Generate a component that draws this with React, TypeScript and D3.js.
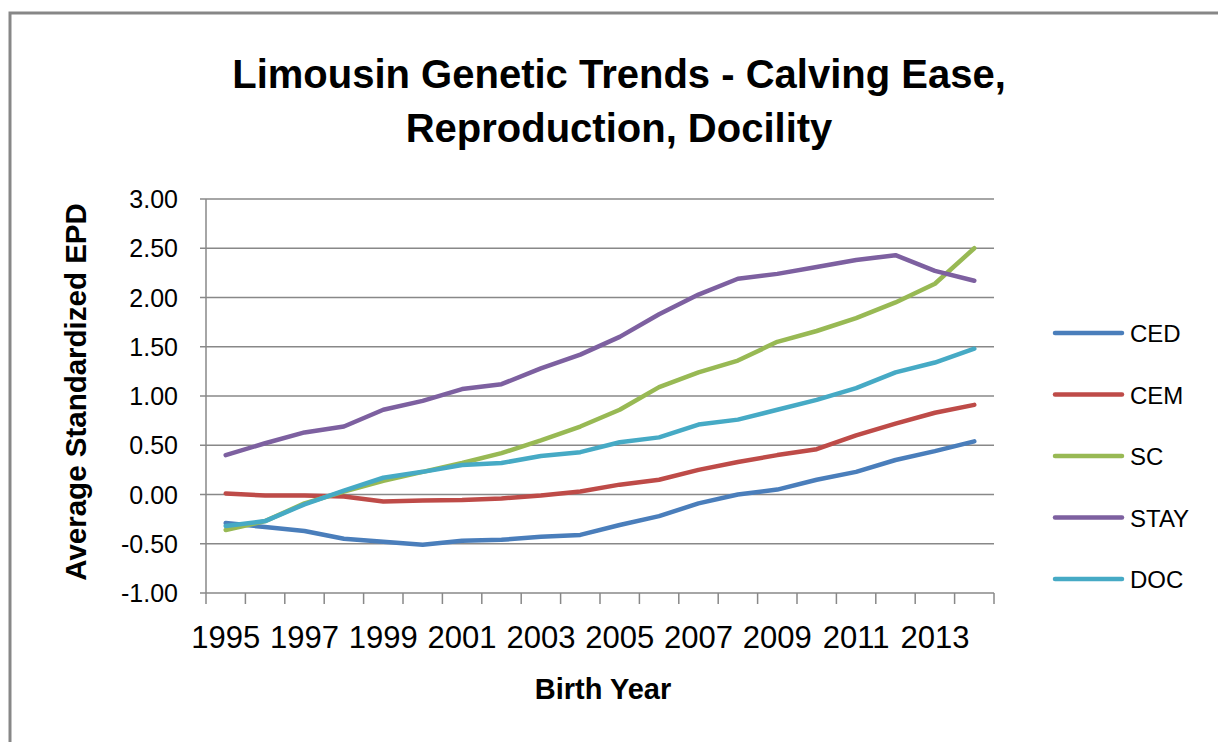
import * as d3 from "d3";

const years = [
  "1995", "1996", "1997", "1998", "1999", "2000", "2001", "2002", "2003", "2004",
  "2005", "2006", "2007", "2008", "2009", "2010", "2011", "2012", "2013", "2014",
];

const CED = [-0.29, -0.33, -0.37, -0.45, -0.48, -0.51, -0.47, -0.46, -0.43, -0.41, -0.31, -0.22, -0.09, 0.0, 0.05, 0.15, 0.23, 0.35, 0.44, 0.54];
const CEM = [0.01, -0.01, -0.01, -0.02, -0.07, -0.06, -0.055, -0.04, -0.01, 0.03, 0.1, 0.15, 0.25, 0.33, 0.4, 0.46, 0.6, 0.72, 0.83, 0.91];
const SC = [-0.36, -0.27, -0.09, 0.03, 0.14, 0.23, 0.32, 0.42, 0.55, 0.69, 0.86, 1.09, 1.24, 1.36, 1.55, 1.66, 1.79, 1.95, 2.14, 2.5];
const STAY = [0.4, 0.52, 0.63, 0.69, 0.86, 0.95, 1.07, 1.12, 1.28, 1.42, 1.6, 1.83, 2.03, 2.19, 2.24, 2.31, 2.38, 2.43, 2.27, 2.17];
const DOC = [-0.32, -0.27, -0.1, 0.04, 0.17, 0.23, 0.3, 0.32, 0.39, 0.43, 0.53, 0.58, 0.71, 0.76, 0.86, 0.96, 1.08, 1.24, 1.34, 1.48];

const yTicks = [-1, -0.5, 0, 0.5, 1, 1.5, 2, 2.5, 3];

const series = [
  { name: "CED", values: CED, color: "#4a7ebb" },
  { name: "CEM", values: CEM, color: "#be4b48" },
  { name: "SC", values: SC, color: "#98b954" },
  { name: "STAY", values: STAY, color: "#7d60a0" },
  { name: "DOC", values: DOC, color: "#46aac5" },
];

const font = "'Liberation Sans', Arial, sans-serif";
const grid = "#888888";

export default function App() {
  const width = 1218;
  const height = 742;
  const plot = { left: 206, right: 994, top: 199, bottom: 593 };

  const x = d3.scaleBand<string>().domain(years).range([plot.left, plot.right]).padding(0);
  const y = d3.scaleLinear().domain([-1, 3]).range([plot.bottom, plot.top]);
  const cx = (yr: string) => (x(yr) ?? 0) + x.bandwidth() / 2;

  const line = d3
    .line<number>()
    .x((_, i) => cx(years[i]))
    .y((d) => y(d));

  // tick marks sit on the category boundaries
  const boundaries = years.map((yr) => x(yr) ?? 0).concat([plot.right]);

  const legendY = d3.scalePoint<string>().domain(series.map((s) => s.name)).range([333, 579]);
  const fmt = (v: number) => d3.format(".2f")(v).replace("\u2212", "-");

  return (
    <svg
      width={width}
      height={height}
      style={{ position: "absolute", left: 0, top: 0, background: "#fff" }}
    >
      <rect x={10} y={13} width={1300} height={800} fill="#fff" stroke="#878787" strokeWidth={3} />

      <g fontFamily={font} fontWeight="bold" fontSize={40} textAnchor="middle" fill="#000">
        <text x={619} y={88}>Limousin Genetic Trends - Calving Ease,</text>
        <text x={619} y={142}>Reproduction, Docility</text>
      </g>

      {yTicks.map((t) => (
        <line key={t} x1={plot.left - 6} x2={plot.right} y1={y(t)} y2={y(t)} stroke={grid} strokeWidth={1.5} />
      ))}
      <line x1={plot.left} x2={plot.left} y1={plot.top} y2={plot.bottom} stroke={grid} strokeWidth={1.5} />
      {boundaries.map((b, i) => (
        <line key={i} x1={b} x2={b} y1={plot.bottom} y2={plot.bottom + 11} stroke={grid} strokeWidth={1.5} />
      ))}

      <g fontFamily={font} fontSize={25} textAnchor="end" fill="#000">
        {yTicks.map((t) => (
          <text key={t} x={178} y={y(t) + 9}>
            {fmt(t)}
          </text>
        ))}
      </g>

      <g fontFamily={font} fontSize={31} textAnchor="middle" fill="#000">
        {years
          .filter((_, i) => i % 2 === 0)
          .map((yr) => (
            <text key={yr} x={cx(yr)} y={648}>
              {yr}
            </text>
          ))}
      </g>

      <text x={603} y={699} fontFamily={font} fontWeight="bold" fontSize={29} textAnchor="middle">
        Birth Year
      </text>
      <text
        transform="translate(86,392) rotate(-90)"
        fontFamily={font}
        fontWeight="bold"
        fontSize={29.5}
        textAnchor="middle"
      >
        Average Standardized EPD
      </text>

      {series.map((s) => (
        <path
          key={s.name}
          d={line(s.values) ?? ""}
          fill="none"
          stroke={s.color}
          strokeWidth={4.5}
          strokeLinejoin="round"
          strokeLinecap="round"
        />
      ))}

      {series.map((s) => (
        <g key={s.name}>
          <line
            x1={1055}
            x2={1122}
            y1={legendY(s.name)}
            y2={legendY(s.name)}
            stroke={s.color}
            strokeWidth={4.5}
            strokeLinecap="round"
          />
          <text x={1130} y={(legendY(s.name) ?? 0) + 9} fontFamily={font} fontSize={24}>
            {s.name}
          </text>
        </g>
      ))}
    </svg>
  );
}
